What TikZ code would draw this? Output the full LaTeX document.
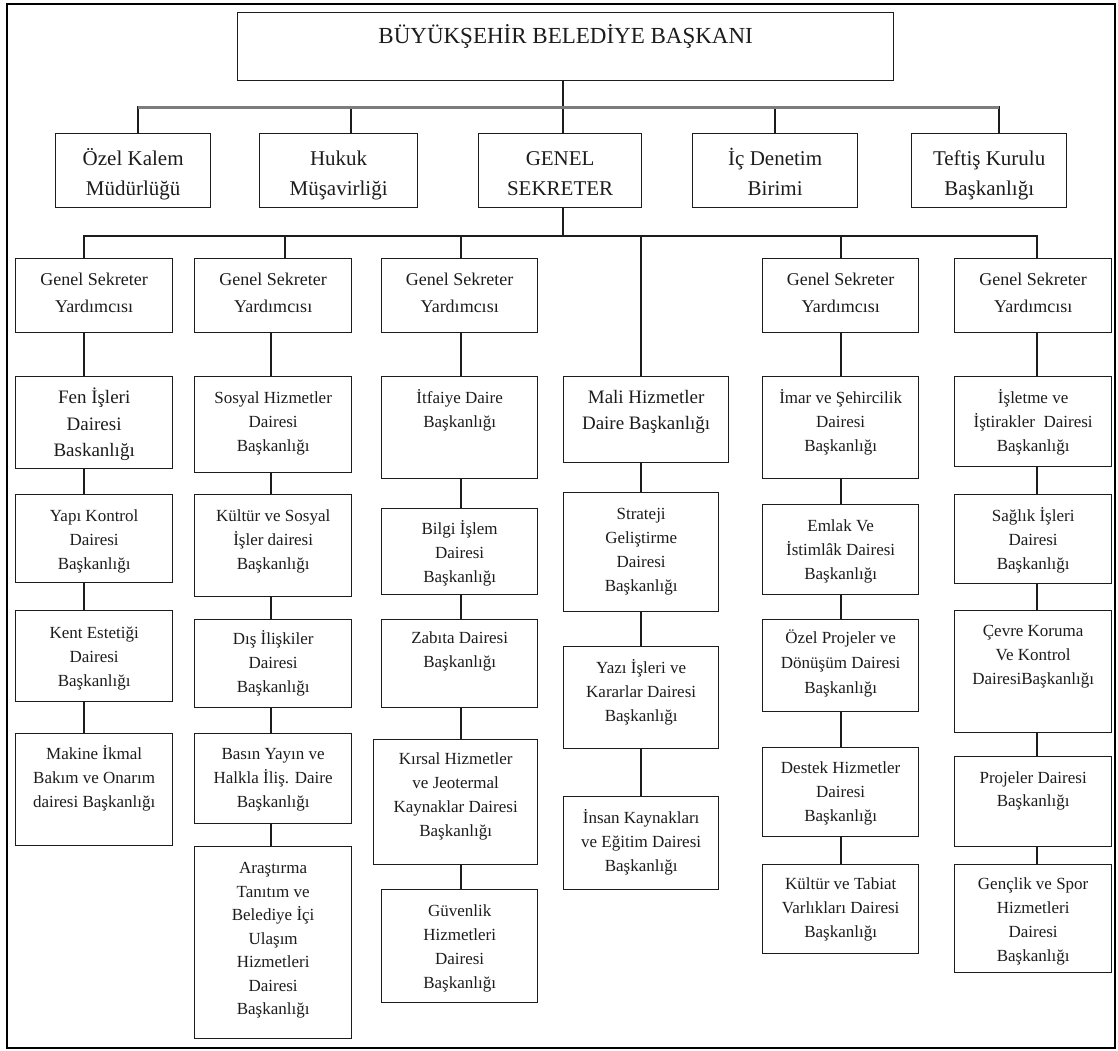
\documentclass[tikz,border=0pt]{standalone}
\usepackage{fontspec}
\setmainfont{Liberation Serif}
\definecolor{ink}{RGB}{28,28,28}
\definecolor{barcol}{RGB}{125,125,125}
\tikzset{
  unit/.style={draw=ink, line width=1.3pt, anchor=north west, inner sep=0pt,
               text=ink, font=\fontsize{17}{24}\selectfont},
  gsy/.style={font=\fontsize{18}{27}\selectfont},
  row2/.style={font=\fontsize{21}{29.5}\selectfont},
  big/.style={font=\fontsize{19}{26.5}\selectfont},
  link/.style={draw=ink, line width=1.3pt, line cap=rect},
  bar/.style={draw=barcol, line width=3pt},
  frame/.style={draw=black, line width=2.5pt},
}
% #1 extra style, #2 name, #3/#4 top-left corner, #5 width, #6 height,
% #7 first baseline below the top edge, #8 text
\newcommand\orgunit[8][]{%
  \node[unit,#1] (#2) at (#3,#4)
    {\parbox[c][#6pt][t]{#5pt}{\centering\vspace*{\dimexpr#7pt-22pt\relax}\rule{0pt}{22pt}#8}};%
}
\begin{document}
\begin{tikzpicture}[x=1pt,y=-1pt]
\useasboundingbox (0,0) rectangle (1118,1050);
\draw[frame] (7,4) rectangle (1115,1048);

% head of the organisation
\orgunit[font=\fontsize{23}{28}\selectfont]{mayor}{237}{12}{656}{68}{31}{BÜYÜKŞEHİR BELEDİYE BAŞKANI}

% units reporting directly to the mayor
\orgunit[row2]{ozel}{55}{133}{155}{74}{32}{Özel Kalem\\Müdürlüğü}
\orgunit[row2]{hukuk}{259}{133}{158}{74}{32}{Hukuk\\Müşavirliği}
\orgunit[row2]{gs}{478}{133}{163}{74}{32}{GENEL\\SEKRETER}
\orgunit[row2]{ic}{692}{133}{165}{74}{32}{İç Denetim\\Birimi}
\orgunit[row2]{teftis}{911}{133}{155}{74}{32}{Teftiş Kurulu\\Başkanlığı}

% deputy secretaries general
\orgunit[gsy]{gsy1}{15}{258}{157}{74}{27}{Genel Sekreter\\Yardımcısı}
\orgunit[gsy]{gsy2}{194}{258}{157}{74}{27}{Genel Sekreter\\Yardımcısı}
\orgunit[gsy]{gsy3}{381}{258}{156}{74}{27}{Genel Sekreter\\Yardımcısı}
\orgunit[gsy]{gsy5}{762}{258}{156}{74}{27}{Genel Sekreter\\Yardımcısı}
\orgunit[gsy]{gsy6}{954}{258}{157}{74}{27}{Genel Sekreter\\Yardımcısı}

% column 1
\orgunit[big]{fen}{15}{376}{157}{92}{27}{Fen İşleri\\Dairesi\\Baskanlığı}
\orgunit{yapi}{15}{494}{157}{88}{27}{Yapı Kontrol\\Dairesi\\Başkanlığı}
\orgunit{kent}{15}{610}{157}{91}{28}{Kent Estetiği\\Dairesi\\Başkanlığı}
\orgunit{makine}{15}{733}{157}{112}{26}{Makine İkmal\\Bakım ve Onarım\\dairesi Başkanlığı}

% column 2
\orgunit{sosyal}{194}{376}{157}{96}{27}{Sosyal Hizmetler\\Dairesi\\Başkanlığı}
\orgunit{kultur}{194}{494}{157}{102}{27}{Kültür ve Sosyal\\İşler dairesi\\Başkanlığı}
\orgunit{dis}{194}{619}{157}{88}{25}{Dış İlişkiler\\Dairesi\\Başkanlığı}
\orgunit{basin}{194}{733}{157}{90}{26}{Basın Yayın ve\\Halkla İliş. Daire\\Başkanlığı}
\orgunit[font=\fontsize{17}{23.5}\selectfont]{arastirma}{194}{846}{157}{192}{27}{Araştırma\\Tanıtım ve\\Belediye İçi\\Ulaşım\\Hizmetleri\\Dairesi\\Başkanlığı}

% column 3
\orgunit{itfaiye}{381}{376}{156}{102}{27}{İtfaiye Daire\\Başkanlığı}
\orgunit{bilgi}{381}{508}{156}{86}{26}{Bilgi İşlem\\Dairesi\\Başkanlığı}
\orgunit{zabita}{381}{619}{156}{88}{24}{Zabıta Dairesi\\Başkanlığı}
\orgunit{kirsal}{373}{739}{164}{125}{25}{Kırsal Hizmetler\\ve Jeotermal\\Kaynaklar Dairesi\\Başkanlığı}
\orgunit{guvenlik}{381}{889}{156}{113}{27}{Güvenlik\\Hizmetleri\\Dairesi\\Başkanlığı}

% column 4
\orgunit[font=\fontsize{19}{26}\selectfont]{mali}{563}{376}{165}{86}{27}{Mali Hizmetler\\Daire Başkanlığı}
\orgunit{strateji}{563}{492}{155}{119}{27}{Strateji\\Geliştirme\\Dairesi\\Başkanlığı}
\orgunit{yazi}{563}{646}{155}{102}{27}{Yazı İşleri ve\\Kararlar Dairesi\\Başkanlığı}
\orgunit{insan}{563}{796}{155}{93}{27}{İnsan Kaynakları\\ve Eğitim Dairesi\\Başkanlığı}

% column 5
\orgunit{imar}{762}{376}{156}{102}{27}{İmar ve Şehircilik\\Dairesi\\Başkanlığı}
\orgunit{emlak}{762}{504}{156}{90}{27}{Emlak Ve\\İstimlâk Dairesi\\Başkanlığı}
\orgunit[font=\fontsize{17}{25}\selectfont]{ozelproj}{762}{619}{156}{92}{24}{Özel Projeler ve\\Dönüşüm Dairesi\\Başkanlığı}
\orgunit{destek}{762}{747}{156}{89}{26}{Destek Hizmetler\\Dairesi\\Başkanlığı}
\orgunit{tabiat}{762}{864}{156}{89}{25}{Kültür ve Tabiat\\Varlıkları Dairesi\\Başkanlığı}

% column 6
\orgunit{isletme}{954}{376}{157}{90}{27}{İşletme ve\\İştirakler\ \ Dairesi\\Başkanlığı}
\orgunit{saglik}{954}{494}{157}{89}{27}{Sağlık İşleri\\Dairesi\\Başkanlığı}
\orgunit{cevre}{954}{610}{157}{122}{26}{Çevre Koruma\\Ve Kontrol\\DairesiBaşkanlığı}
\orgunit[font=\fontsize{17}{23}\selectfont]{projeler}{954}{756}{157}{90}{27}{Projeler Dairesi\\Başkanlığı}
\orgunit{genclik}{954}{864}{157}{108}{25}{Gençlik ve Spor\\Hizmetleri\\Dairesi\\Başkanlığı}

% bus lines and the vertical axes of the connectors
\coordinate (busA) at (0,107);
\coordinate (busB) at (0,236);
\coordinate (xm) at (563,0);
\coordinate (xo) at (138,0);
\coordinate (xh) at (351,0);
\coordinate (xi) at (775,0);
\coordinate (xt) at (999,0);
\coordinate (k1) at (84,0);
\coordinate (k2) at (271,0);
\coordinate (k2t) at (285,0);
\coordinate (k3) at (461,0);
\coordinate (k4) at (641,0);
\coordinate (k5) at (841,0);
\coordinate (k6) at (1037,0);

% mayor to first level
\draw[link] (mayor.south -| xm) -- (busA -| xm);
\foreach \n/\c in {ozel/xo, hukuk/xh, gs/xm, ic/xi, teftis/xt}
  \draw[link] (busA -| \c) -- (\n.north -| \c);
\draw[bar] (busA -| xo) -- (busA -| xt);

% secretary general to deputies
\draw[link] (gs.south -| xm) -- (busB -| xm);
\draw[link] (busB -| k1) -- (busB -| k6);
\foreach \n/\c in {gsy1/k1, gsy2/k2t, gsy3/k3, mali/k4, gsy5/k5, gsy6/k6}
  \draw[link] (busB -| \c) -- (\n.north -| \c);

% departments under each deputy
\foreach \a/\b/\c in {
    gsy1/fen/k1, fen/yapi/k1, yapi/kent/k1, kent/makine/k1,
    gsy2/sosyal/k2, sosyal/kultur/k2, kultur/dis/k2, dis/basin/k2, basin/arastirma/k2,
    gsy3/itfaiye/k3, itfaiye/bilgi/k3, bilgi/zabita/k3, zabita/kirsal/k3, kirsal/guvenlik/k3,
    mali/strateji/k4, strateji/yazi/k4, yazi/insan/k4,
    gsy5/imar/k5, imar/emlak/k5, emlak/ozelproj/k5, ozelproj/destek/k5, destek/tabiat/k5,
    gsy6/isletme/k6, isletme/saglik/k6, saglik/cevre/k6, cevre/projeler/k6, projeler/genclik/k6}
  \draw[link] (\a.south -| \c) -- (\b.north -| \c);
\end{tikzpicture}
\end{document}
